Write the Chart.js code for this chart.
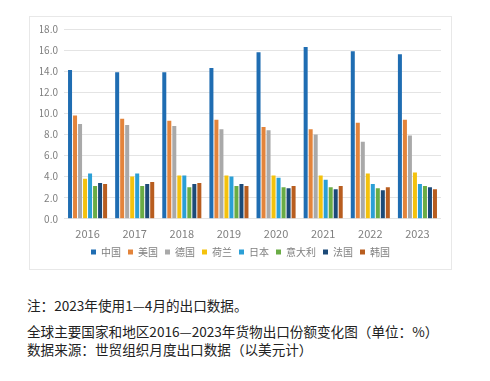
<!DOCTYPE html>
<html><head><meta charset="utf-8">
<script src="https://cdn.jsdelivr.net/npm/chart.js@4/dist/chart.umd.min.js"></script>
<style>
html,body{margin:0;padding:0;background:#fff;width:490px;height:381px;overflow:hidden;font-family:"Noto Sans CJK SC",sans-serif;}
#box{position:absolute;left:29px;top:16px;width:421px;height:252px;border:1px solid #e8e8e8;}
#c{position:absolute;left:0;top:0;}
.note{position:absolute;left:27px;font-size:13.6px;color:#222;white-space:nowrap;line-height:16px;}
</style></head><body>
<div id="box"><canvas id="c" width="421" height="252"></canvas></div>
<div class="note" style="top:297px">注：2023年使用1—4月的出口数据。</div>
<div class="note" style="top:323px">全球主要国家和地区2016—2023年货物出口份额变化图（单位：%）</div>
<div class="note" style="top:341px">数据来源：世贸组织月度出口数据（以美元计）</div>
<script>
const years = ["2016","2017","2018","2019","2020","2021","2022","2023"];
const seriesNames = ["中国","美国","德国","荷兰","日本","意大利","法国","韩国"];
const china   = [14.1, 13.9, 13.9, 14.3, 15.8, 16.3, 15.9, 15.6];
const usa     = [9.8, 9.5, 9.3, 9.4, 8.7, 8.5, 9.1, 9.4];
const germany = [9.0, 8.9, 8.8, 8.5, 8.4, 8.0, 7.3, 7.9];
const nether  = [3.8, 4.0, 4.1, 4.1, 4.1, 4.1, 4.3, 4.4];
const japan   = [4.3, 4.3, 4.1, 4.0, 3.9, 3.7, 3.3, 3.3];
const italy   = [3.1, 3.1, 3.0, 3.1, 3.0, 3.0, 2.9, 3.1];
const france  = [3.4, 3.3, 3.3, 3.3, 2.9, 2.8, 2.7, 3.0];
const korea   = [3.3, 3.5, 3.4, 3.1, 3.1, 3.1, 3.0, 2.8];
const yTicks  = [0,2,4,6,8,10,12,14,16,18];
const colors  = ["#1f6db2","#e3843b","#a9a9a9","#f4c20d","#2b9fd6","#6aac45","#1c4a78","#b85d1f"];
const values = [china,usa,germany,nether,japan,italy,france,korea];
new Chart(document.getElementById('c'), {
  type:'bar',
  data:{labels:years, datasets:values.map((v,i)=>({label:seriesNames[i],data:v,backgroundColor:colors[i],borderWidth:0}))},
  options:{
    responsive:false, animation:false,
    layout:{padding:{top:6,right:10,left:10,bottom:2}},
    datasets:{bar:{categoryPercentage:0.85,barPercentage:0.8}},
    scales:{
      x:{grid:{display:false},border:{display:false},ticks:{color:'#7f7f7f',font:{size:11,family:'"Noto Sans CJK SC"'},padding:0}},
      y:{min:0,max:18,afterBuildTicks:s=>{s.ticks=yTicks.map(v=>({value:v}));},afterFit:s=>{s.width=24;},
         grid:{color:'#e4e4e4',drawTicks:false},border:{display:false},
         ticks:{color:'#7f7f7f',font:{size:10,family:'"Noto Sans CJK SC"'},padding:6,callback:v=>v.toFixed(1)}}
    },
    plugins:{legend:{position:'bottom',labels:{boxWidth:5,boxHeight:5,color:'#7f7f7f',font:{size:10,family:'"Noto Sans CJK SC"'},padding:7}},tooltip:{enabled:false}}
  }
});
</script></body></html>
